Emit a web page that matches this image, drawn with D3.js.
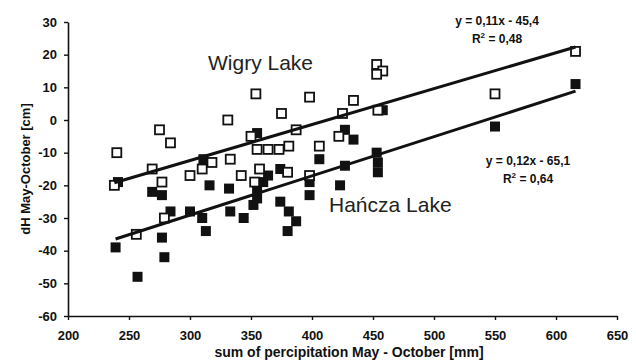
<!DOCTYPE html>
<html>
<head>
<meta charset="utf-8">
<script src="https://cdn.jsdelivr.net/npm/d3@7"></script>
<style>
  body { margin: 0; background: #fff; }
  text { font-family: "Liberation Sans", Arial, sans-serif; }
</style>
</head>
<body>
<svg width="636" height="362"></svg>
<script>
// Wigry Lake (open squares)
const wigryX = [238, 240, 256, 269, 275, 284, 277, 279, 300, 310, 318, 331, 333, 342, 350, 353, 354, 355, 357, 364, 373, 375, 380, 381, 387, 398, 398, 406, 422, 425, 434, 453, 458, 453, 454, 550, 616];
const wigryY = [-20, -10, -35, -15, -3, -7, -19, -30, -17, -15, -13, 0, -12, -17, -5, -19, 8, -9, -15, -9, -9, 2, -16, -8, -3, 7, -17, -8, -5, 2, 6, 17, 15, 14, 3, 8, 21];

// Hancza Lake (filled squares)
const hanczaX = [239, 241, 257, 269, 277, 277, 279, 284, 300, 310, 313, 311, 316, 332, 333, 344, 352, 355, 355, 355, 360, 364, 374, 374, 381, 380, 387, 398, 398, 406, 423, 427, 427, 434, 453, 454, 454, 458, 550, 616];
const hanczaY = [-39, -19, -48, -22, -23, -36, -42, -28, -28, -30, -34, -12, -20, -21, -28, -30, -26, -24, -21, -4, -19, -17, -15, -25, -28, -34, -31, -19, -23, -12, -20, -14, -3, -6, -10, -13, -16, 3, -2, 11];

// trend lines: slope, intercept
const wigryFit = [0.11, -45.4];
const hanczaFit = [0.12, -65.1];

const xTicks = [200, 250, 300, 350, 400, 450, 500, 550, 600, 650];
const yTicks = [30, 20, 10, 0, -10, -20, -30, -40, -50, -60];

const svg = d3.select("svg");

const x = d3.scaleLinear().domain([200, 650]).range([68, 617]);
const y = d3.scaleLinear().domain([-60, 30]).range([316, 22]);

// plain hyphen for negatives, like the original
const fmt = function(d) { return String(d); };

const xAxis = svg.append("g")
  .attr("transform", "translate(0,316)")
  .call(d3.axisBottom(x).tickValues(xTicks).tickFormat(fmt).tickSize(4).tickPadding(11).tickSizeOuter(0));
const yAxis = svg.append("g")
  .attr("transform", "translate(68,0)")
  .call(d3.axisLeft(y).tickValues(yTicks).tickFormat(fmt).tickSize(4).tickPadding(7).tickSizeOuter(0));

[xAxis, yAxis].forEach(function(g) {
  g.select(".domain").attr("stroke", "#111").attr("stroke-width", 1.6);
  g.selectAll(".tick line").attr("stroke", "#111").attr("stroke-width", 1.4);
  g.selectAll(".tick text")
    .attr("fill", "#111")
    .style("font-size", "13px")
    .style("font-weight", "bold")
    .style("font-family", "'Liberation Sans', Arial, sans-serif");
});

const hancza = hanczaX.map(function(d, i) { return {x: d, y: hanczaY[i]}; });
const wigry = wigryX.map(function(d, i) { return {x: d, y: wigryY[i]}; });

svg.append("g").selectAll("rect")
  .data(hancza)
  .enter().append("rect")
  .attr("x", function(d) { return x(d.x) - 5; })
  .attr("y", function(d) { return y(d.y) - 5; })
  .attr("width", 10)
  .attr("height", 10)
  .attr("fill", "#111");

svg.append("g").selectAll("rect")
  .data(wigry)
  .enter().append("rect")
  .attr("x", function(d) { return x(d.x) - 4.5; })
  .attr("y", function(d) { return y(d.y) - 4.5; })
  .attr("width", 9)
  .attr("height", 9)
  .attr("fill", "#fff")
  .attr("stroke", "#111")
  .attr("stroke-width", 1.8);

function trend(xs, fit) {
  const x0 = d3.min(xs), x1 = d3.max(xs);
  svg.append("line")
    .attr("x1", x(x0)).attr("y1", y(fit[0] * x0 + fit[1]))
    .attr("x2", x(x1)).attr("y2", y(fit[0] * x1 + fit[1]))
    .attr("stroke", "#111")
    .attr("stroke-width", 3);
}
trend(wigryX, wigryFit);
trend(hanczaX, hanczaFit);

// lake names
svg.append("text").attr("x", 208).attr("y", 70)
  .style("font-size", "21px").attr("fill", "#222").text("Wigry Lake");
svg.append("text").attr("x", 329).attr("y", 212)
  .style("font-size", "21px").attr("fill", "#222").text("Hańcza Lake");

// equations
function eq(cx, cy, line1, r2) {
  const t = svg.append("text").attr("text-anchor", "middle")
    .style("font-size", "12px").style("font-weight", "bold").attr("fill", "#111");
  t.append("tspan").attr("x", cx).attr("y", cy).text(line1);
  const t2 = svg.append("text").attr("text-anchor", "middle")
    .style("font-size", "12px").style("font-weight", "bold").attr("fill", "#111")
    .attr("x", cx).attr("y", cy + 18);
  t2.append("tspan").text("R");
  t2.append("tspan").attr("dy", -5).style("font-size", "8px").text("2");
  t2.append("tspan").attr("dy", 5).text(" = " + r2);
}
eq(497, 25, "y = 0,11x - 45,4", "0,48");
eq(528, 165, "y = 0,12x - 65,1", "0,64");

// axis titles
svg.append("text")
  .attr("x", 349).attr("y", 357)
  .attr("text-anchor", "middle")
  .style("font-size", "14px").style("font-weight", "bold").attr("fill", "#111")
  .text("sum of percipitation May - October [mm]");
svg.append("text")
  .attr("transform", "translate(30,169) rotate(-90)")
  .attr("text-anchor", "middle")
  .style("font-size", "13px").style("font-weight", "bold").attr("fill", "#111")
  .text("dH May-October [cm]");
</script>
</body>
</html>
